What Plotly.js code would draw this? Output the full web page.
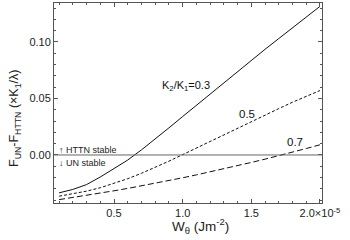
<!DOCTYPE html>
<html>
<head>
<meta charset="utf-8">
<script src="https://cdn.plot.ly/plotly-3.0.1.min.js"></script>
<style>html,body{margin:0;padding:0;background:#fff;}#chart{width:350px;height:240px;}</style>
</head>
<body>
<div id="chart"></div>
<script>
// W_theta in units of 1e-5 J m^-2
const wTheta = [0.1,0.2,0.3,0.4,0.5,0.6,0.7,0.8,0.9,1.0,1.1,1.2,1.3,1.4,1.5,1.6,1.7,1.8,1.9,2.0];
const fK03 = [-0.0335,-0.0305,-0.0262,-0.0195,-0.0120,-0.0045,0.0045,0.0140,0.0240,0.0340,0.0440,0.0540,0.0640,0.0740,0.0838,0.0935,0.1030,0.1125,0.1220,0.1315];
const fK05 = [-0.0365,-0.0345,-0.0320,-0.0290,-0.0253,-0.0210,-0.0162,-0.0110,-0.0055,0.0003,0.0062,0.0120,0.0178,0.0236,0.0294,0.0352,0.0410,0.0467,0.0522,0.0570];
const fK07 = [-0.0395,-0.0377,-0.0358,-0.0338,-0.0317,-0.0296,-0.0274,-0.0251,-0.0227,-0.0202,-0.0176,-0.0150,-0.0123,-0.0095,-0.0066,-0.0037,-0.0007,0.0025,0.0057,0.0090];
const xTickVals = [0.5,1.0,1.5,2.0];
const xTickText = ['0.5','1.0','1.5','2.0×10<sup>-5</sup>'];
const yTickVals = [0.00,0.05,0.10];
const yTickText = ['0.00','0.05','0.10'];
const seriesLabels = ['K<sub>2</sub>/K<sub>1</sub>=0.3','0.5','0.7'];
const xTitle = 'W<sub>θ</sub> (Jm<sup>-2</sup>)';
const yTitle = 'F<sub>UN</sub>-F<sub>HTTN</sub> (×K<sub>1</sub>/λ)';

const FONT = 'Liberation Sans, Arial, sans-serif';
const traces = [
  {x: wTheta, y: fK03, mode:'lines', line:{color:'#111', width:1, dash:'solid'}, hoverinfo:'skip'},
  {x: wTheta, y: fK05, mode:'lines', line:{color:'#111', width:1, dash:'3px,2px'}, hoverinfo:'skip'},
  {x: wTheta, y: fK07, mode:'lines', line:{color:'#111', width:1, dash:'6px,3px'}, hoverinfo:'skip'}
];
const axisCommon = {
  showline:true, linecolor:'#555', linewidth:1, mirror:'ticks',
  ticks:'inside', ticklen:4, tickcolor:'#555', tickwidth:1,
  showgrid:false, zeroline:false,
  tickfont:{family:FONT, size:11, color:'#222'}
};
const layout = {
  width:350, height:240,
  margin:{l:54, r:28, t:3, b:37},
  paper_bgcolor:'#fff', plot_bgcolor:'#fff',
  showlegend:false,
  font:{family:FONT, color:'#222'},
  xaxis: Object.assign({}, axisCommon, {
    range:[0.063, 2.015], tickmode:'array', tickvals:xTickVals, ticktext:xTickText,
    minor:{dtick:0.1, tick0:0, ticks:'inside', ticklen:2, tickcolor:'#555'}
  }),
  yaxis: Object.assign({}, axisCommon, {
    range:[-0.0425, 0.1345], tickmode:'array', tickvals:yTickVals, ticktext:yTickText,
    minor:{dtick:0.01, tick0:0, ticks:'inside', ticklen:2, tickcolor:'#555'}
  }),
  shapes:[
    {type:'line', xref:'paper', x0:0, x1:1, yref:'y', y0:0, y1:0, line:{color:'#666', width:1}}
  ],
  annotations:[
    {x:1.215, y:0.061, xanchor:'right', text:seriesLabels[0], showarrow:false, font:{family:FONT, size:11, color:'#111'}},
    {x:1.47, y:0.0363, text:seriesLabels[1], showarrow:false, font:{family:FONT, size:11.5, color:'#111'}},
    {x:1.818, y:0.0115, text:seriesLabels[2], showarrow:false, font:{family:FONT, size:11.5, color:'#111'}},
    {x:0.085, y:0.0044, xanchor:'left', text:'↑ HTTN stable', showarrow:false, font:{family:FONT, size:9, color:'#222'}},
    {x:0.085, y:-0.0071, xanchor:'left', text:'↓ UN stable', showarrow:false, font:{family:FONT, size:9, color:'#222'}},
    {xref:'paper', yref:'paper', x:0.545, y:-0.115, xanchor:'center', yanchor:'middle', text:xTitle, showarrow:false, font:{family:FONT, size:13.5, color:'#222'}},
    {xref:'paper', yref:'paper', x:-0.1455, y:0.42, xanchor:'center', yanchor:'middle', textangle:-90, text:yTitle, showarrow:false, font:{family:FONT, size:12.5, color:'#222'}}
  ]
};
Plotly.newPlot('chart', traces, layout, {staticPlot:true, displayModeBar:false});
</script>
</body>
</html>
